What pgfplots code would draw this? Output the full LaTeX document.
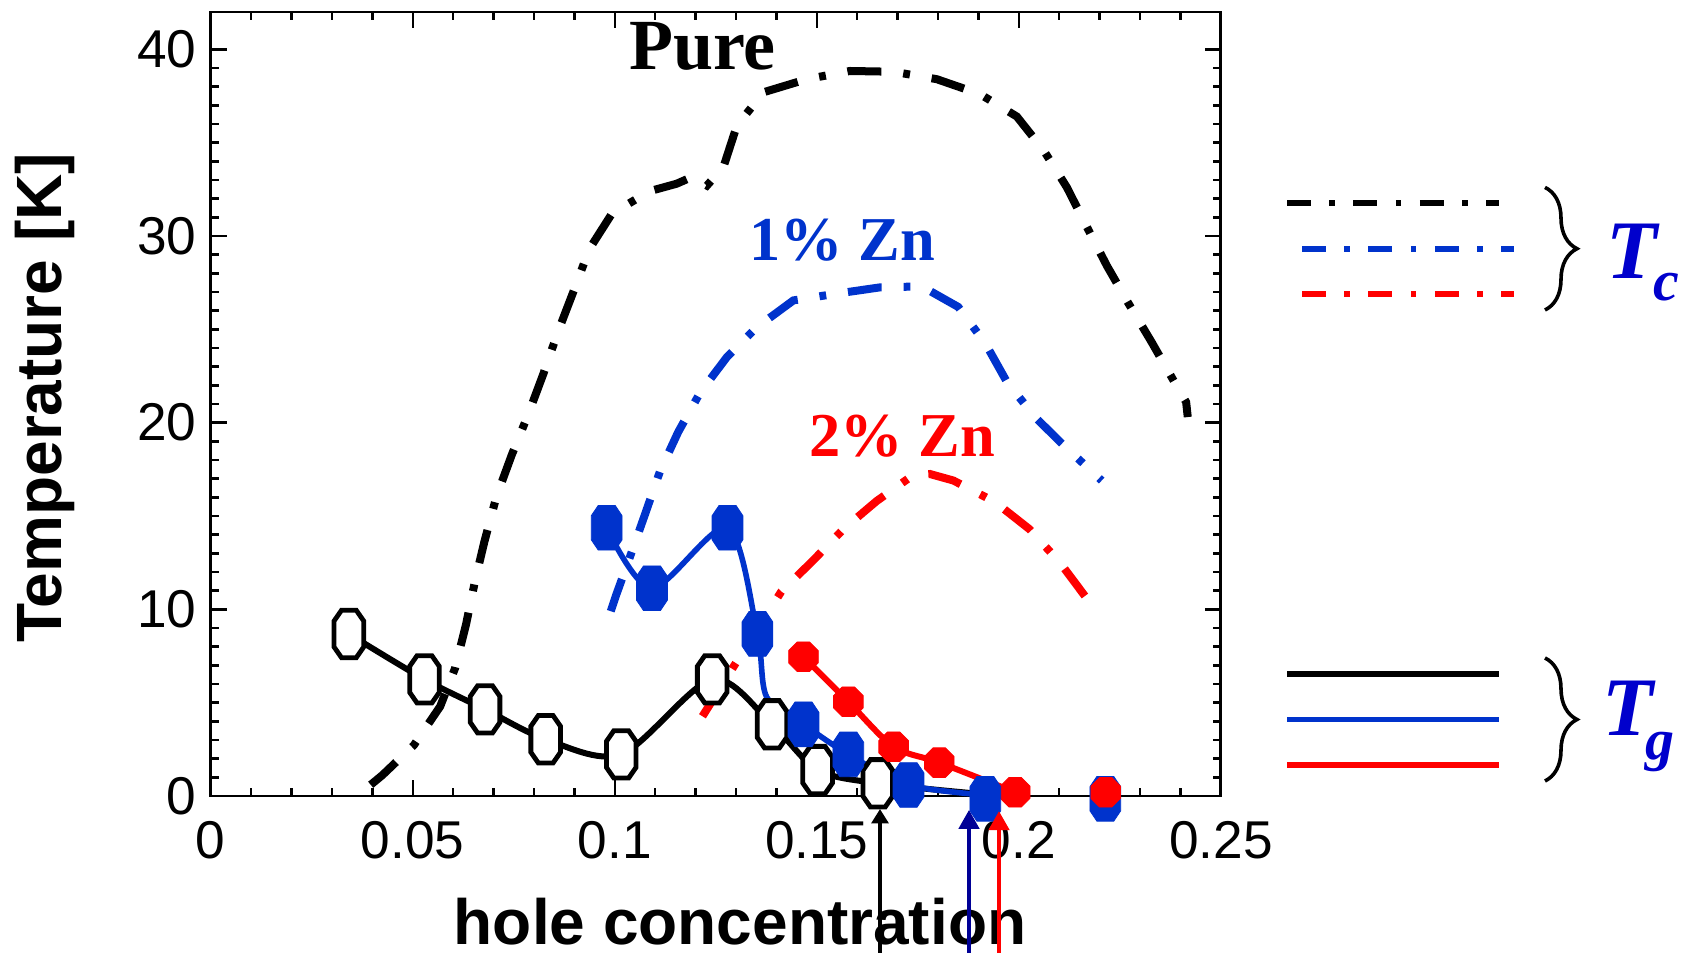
\documentclass[border=0pt]{standalone}
\usepackage{fontspec}
\setmainfont{Liberation Sans}
\newfontfamily\serif{Liberation Serif}
\usepackage{pgfplots}
\pgfplotsset{compat=1.18}
\usetikzlibrary{arrows.meta,decorations.pathreplacing}

\definecolor{zblue}{RGB}{0,51,204}
\definecolor{tblue}{RGB}{0,0,204}
\definecolor{navy}{RGB}{0,0,150}
\definecolor{zred}{RGB}{255,0,0}

% tall octagon (black, open)
\pgfdeclareplotmark{octK}{%
 \pgfpathmoveto{\pgfqpoint{0.5\pgfplotmarksize}{1.6\pgfplotmarksize}}%
 \pgfpathlineto{\pgfqpoint{\pgfplotmarksize}{0.88\pgfplotmarksize}}%
 \pgfpathlineto{\pgfqpoint{\pgfplotmarksize}{-0.88\pgfplotmarksize}}%
 \pgfpathlineto{\pgfqpoint{0.5\pgfplotmarksize}{-1.6\pgfplotmarksize}}%
 \pgfpathlineto{\pgfqpoint{-0.5\pgfplotmarksize}{-1.6\pgfplotmarksize}}%
 \pgfpathlineto{\pgfqpoint{-\pgfplotmarksize}{-0.88\pgfplotmarksize}}%
 \pgfpathlineto{\pgfqpoint{-\pgfplotmarksize}{0.88\pgfplotmarksize}}%
 \pgfpathlineto{\pgfqpoint{-0.5\pgfplotmarksize}{1.6\pgfplotmarksize}}%
 \pgfpathclose\pgfusepathqfillstroke}
% tall octagon (blue, filled)
\pgfdeclareplotmark{octB}{%
 \pgfpathmoveto{\pgfqpoint{0.55\pgfplotmarksize}{1.45\pgfplotmarksize}}%
 \pgfpathlineto{\pgfqpoint{\pgfplotmarksize}{0.78\pgfplotmarksize}}%
 \pgfpathlineto{\pgfqpoint{\pgfplotmarksize}{-0.78\pgfplotmarksize}}%
 \pgfpathlineto{\pgfqpoint{0.55\pgfplotmarksize}{-1.45\pgfplotmarksize}}%
 \pgfpathlineto{\pgfqpoint{-0.55\pgfplotmarksize}{-1.45\pgfplotmarksize}}%
 \pgfpathlineto{\pgfqpoint{-\pgfplotmarksize}{-0.78\pgfplotmarksize}}%
 \pgfpathlineto{\pgfqpoint{-\pgfplotmarksize}{0.78\pgfplotmarksize}}%
 \pgfpathlineto{\pgfqpoint{-0.55\pgfplotmarksize}{1.45\pgfplotmarksize}}%
 \pgfpathclose\pgfusepathqfillstroke}
% regular octagon (red, filled)
\pgfdeclareplotmark{octR}{%
 \pgfpathmoveto{\pgfqpoint{0.414\pgfplotmarksize}{\pgfplotmarksize}}%
 \pgfpathlineto{\pgfqpoint{\pgfplotmarksize}{0.414\pgfplotmarksize}}%
 \pgfpathlineto{\pgfqpoint{\pgfplotmarksize}{-0.414\pgfplotmarksize}}%
 \pgfpathlineto{\pgfqpoint{0.414\pgfplotmarksize}{-\pgfplotmarksize}}%
 \pgfpathlineto{\pgfqpoint{-0.414\pgfplotmarksize}{-\pgfplotmarksize}}%
 \pgfpathlineto{\pgfqpoint{-\pgfplotmarksize}{-0.414\pgfplotmarksize}}%
 \pgfpathlineto{\pgfqpoint{-\pgfplotmarksize}{0.414\pgfplotmarksize}}%
 \pgfpathlineto{\pgfqpoint{-0.414\pgfplotmarksize}{\pgfplotmarksize}}%
 \pgfpathclose\pgfusepathqfillstroke}

\tikzset{tcdash/.style={line width=2pt, dash pattern=on 8.5pt off 5.5pt on 1.7pt off 5.5pt},
         legdash/.style={line width=1.5pt, dash pattern=on 6pt off 4.6pt on 1.4pt off 4.6pt}}

\begin{document}
\begin{tikzpicture}
\path[use as bounding box] (0,0) rectangle (423.5pt,238.25pt);
\begin{axis}[
  at={(52.675pt,39.25pt)}, anchor=south west,
  scale only axis, width=252.55pt, height=196pt,
  xmin=0, xmax=0.25, ymin=0, ymax=42,
  clip=false,
  xtick={0,0.05,0.1,0.15,0.2,0.25},
  xticklabels={0,0.05,0.1,0.15,0.2,0.25},
  minor x tick num=4,
  ytick={0,10,20,30,40},
  minor y tick num=9,
  tick align=inside, tick pos=both,
  major tick length=4pt, minor tick length=2pt,
  every tick/.append style={line width=0.6pt, black},
  axis line style={line width=0.7pt},
  /pgf/number format/assume math mode=true,
  tick label style={font=\fontsize{13.3}{15}\selectfont},
  xticklabel style={yshift=-2.8pt},
  xlabel={hole concentration}, ylabel={Temperature [K]},
  label style={font=\bfseries\fontsize{16}{18}\selectfont},
  xlabel style={at={(axis description cs:0.524,-0.190)}, anchor=base},
  ylabel style={at={(axis description cs:-0.164,0.508)}, anchor=center},
]
% ---- Tc curves ----
\addplot[black, tcdash] coordinates {
 (0.0396,0.6) (0.0425,1.12) (0.0503,2.73) (0.0568,4.8) (0.0605,6.86) (0.0632,9.2)
 (0.0654,11.5) (0.0677,13.6) (0.0707,16.03) (0.0745,18.27) (0.0785,20.4) (0.0823,22.6)
 (0.0860,24.9) (0.0899,27.1) (0.0937,29.3) (0.0993,31.2) (0.1086,32.4) (0.1153,32.8)
 (0.119,33.15) (0.1228,32.7) (0.1269,33.7) (0.1302,35.9) (0.1368,37.7) (0.1475,38.4)
 (0.1582,38.84) (0.169,38.8) (0.1797,38.4) (0.1904,37.6) (0.1995,36.4) (0.2061,34.6)
 (0.2119,32.6) (0.2168,30.5) (0.2218,28.4) (0.2271,26.4) (0.2329,24.3) (0.2387,22.1)
 (0.2414,21.1) (0.2418,20.3)};
\addplot[zblue, tcdash] coordinates {
 (0.0990,9.9) (0.1004,10.8) (0.104,12.96) (0.1075,15.1) (0.1112,17.4) (0.1157,19.5)
 (0.1211,21.6) (0.1277,23.5) (0.1351,25.1) (0.1442,26.55) (0.1545,26.9) (0.1657,27.25)
 (0.176,27.3) (0.185,26.2) (0.1917,24.25) (0.197,22.2) (0.204,20.3) (0.2115,18.7)
 (0.2205,16.9)};
\addplot[zred, tcdash] coordinates {
 (0.1217,4.27) (0.1296,7.0) (0.1355,9.0) (0.1412,10.95) (0.149,12.6) (0.1566,14.3)
 (0.1648,15.8) (0.1739,17.2) (0.178,17.25) (0.1838,16.9) (0.1941,15.75) (0.2026,14.3)
 (0.21,12.55) (0.2164,10.7) (0.2189,9.96)};
% ---- Tg curves ----
\addplot[black, line width=1.5pt, smooth] coordinates {
 (0.0342,8.68) (0.0529,6.25) (0.0679,4.64) (0.0829,3.04) (0.1016,2.23) (0.1241,6.25)
 (0.1389,3.84) (0.1502,1.39) (0.1651,0.68) (0.1885,0.15)};
\addplot[only marks, mark=octK, mark size=3.7pt,
  mark options={black, fill=white, line width=1.2pt}] coordinates {
 (0.0342,8.68) (0.0529,6.25) (0.0679,4.64) (0.0829,3.04) (0.1016,2.23) (0.1241,6.25)
 (0.1389,3.84) (0.1502,1.39) (0.1651,0.68)};
\addplot[zred, line width=1.5pt, smooth] coordinates {
 (0.1467,7.46) (0.1578,5.05) (0.169,2.64) (0.1803,1.79) (0.1991,0.2)};
\addplot[only marks, mark=octR, mark size=3.7pt,
  mark options={zred, fill=zred, line width=0.2pt}] coordinates {
 (0.1467,7.46) (0.1578,5.05) (0.169,2.64) (0.1803,1.79) (0.1991,0.2)};
\addplot[zblue, line width=1.4pt, smooth] coordinates {
 (0.098,14.37) (0.1092,11.13) (0.1279,14.37) (0.1353,8.68) (0.1376,5.3) (0.1467,3.84)
 (0.1578,2.23) (0.1727,0.59) (0.1917,0.05)};
\addplot[only marks, mark=octB, mark size=3.85pt,
  mark options={zblue, fill=zblue, line width=0.2pt}] coordinates {
 (0.098,14.37) (0.1092,11.13) (0.1279,14.37) (0.1353,8.68) (0.1467,3.84) (0.1578,2.23)
 (0.1727,0.59) (0.1917,-0.15) (0.2214,-0.15)};
\addplot[only marks, mark=octR, mark size=3.7pt,
  mark options={zred, fill=zred, line width=0.2pt}] coordinates {(0.2215,0.2)};
% ---- annotations ----
\node[anchor=base, inner sep=0, font=\serif\bfseries\fontsize{18}{20}\selectfont]
  at (axis cs:0.1217,38.9) {Pure};
\node[anchor=base, inner sep=0, text=zblue, font=\serif\bfseries\fontsize{15.6}{18}\selectfont]
  at (axis cs:0.1563,28.7) {1\% Zn};
\node[anchor=base, inner sep=0, text=zred, font=\serif\bfseries\fontsize{15.6}{18}\selectfont]
  at (axis cs:0.1711,18.2) {2\% Zn};
\end{axis}
% ---- arrows ----
\draw[black, line width=1.2pt, -{Triangle[width=4.2pt,length=3.6pt]}] (220pt,0pt) -- (220pt,36pt);
\draw[navy, line width=1.2pt, -{Triangle[width=5pt,length=4.8pt]}] (242.25pt,0pt) -- (242.25pt,35.8pt);
\draw[zred, line width=1.2pt, -{Triangle[width=5pt,length=4.8pt]}] (249.75pt,0pt) -- (249.75pt,35.5pt);
% ---- legend ----
\draw[black, legdash] (321.75pt,187.5pt) -- (374.75pt,187.5pt);
\draw[zblue, legdash] (325.5pt,176.06pt) -- (378.5pt,176.06pt);
\draw[zred, legdash] (325.5pt,164.75pt) -- (378.5pt,164.75pt);
\draw[black, line width=1.5pt] (321.75pt,69.8pt) -- (374.75pt,69.8pt);
\draw[zblue, line width=1.3pt] (321.75pt,58.35pt) -- (374.75pt,58.35pt);
\draw[zred, line width=1.3pt] (321.75pt,47pt) -- (374.75pt,47pt);
\draw[line width=0.9pt, decorate, decoration={brace, amplitude=8pt}] (386.25pt,191.4pt) -- (386.25pt,160.75pt);
\draw[line width=0.9pt, decorate, decoration={brace, amplitude=8pt}] (386.25pt,73.75pt) -- (386.25pt,43pt);
\node[anchor=base west, inner sep=0, text=tblue, font=\serif\bfseries\itshape\fontsize{20.8}{22}\selectfont]
  at (401.5pt,168.5pt) {T};
\node[anchor=base west, inner sep=0, text=tblue, font=\serif\bfseries\itshape\fontsize{14.5}{16}\selectfont]
  at (413.2pt,163pt) {c};
\node[anchor=base west, inner sep=0, text=tblue, font=\serif\bfseries\itshape\fontsize{20.8}{22}\selectfont]
  at (400.5pt,54.4pt) {T};
\node[anchor=base west, inner sep=0, text=tblue, font=\serif\bfseries\itshape\fontsize{14.5}{16}\selectfont]
  at (411.2pt,48.25pt) {g};
\end{tikzpicture}
\end{document}
